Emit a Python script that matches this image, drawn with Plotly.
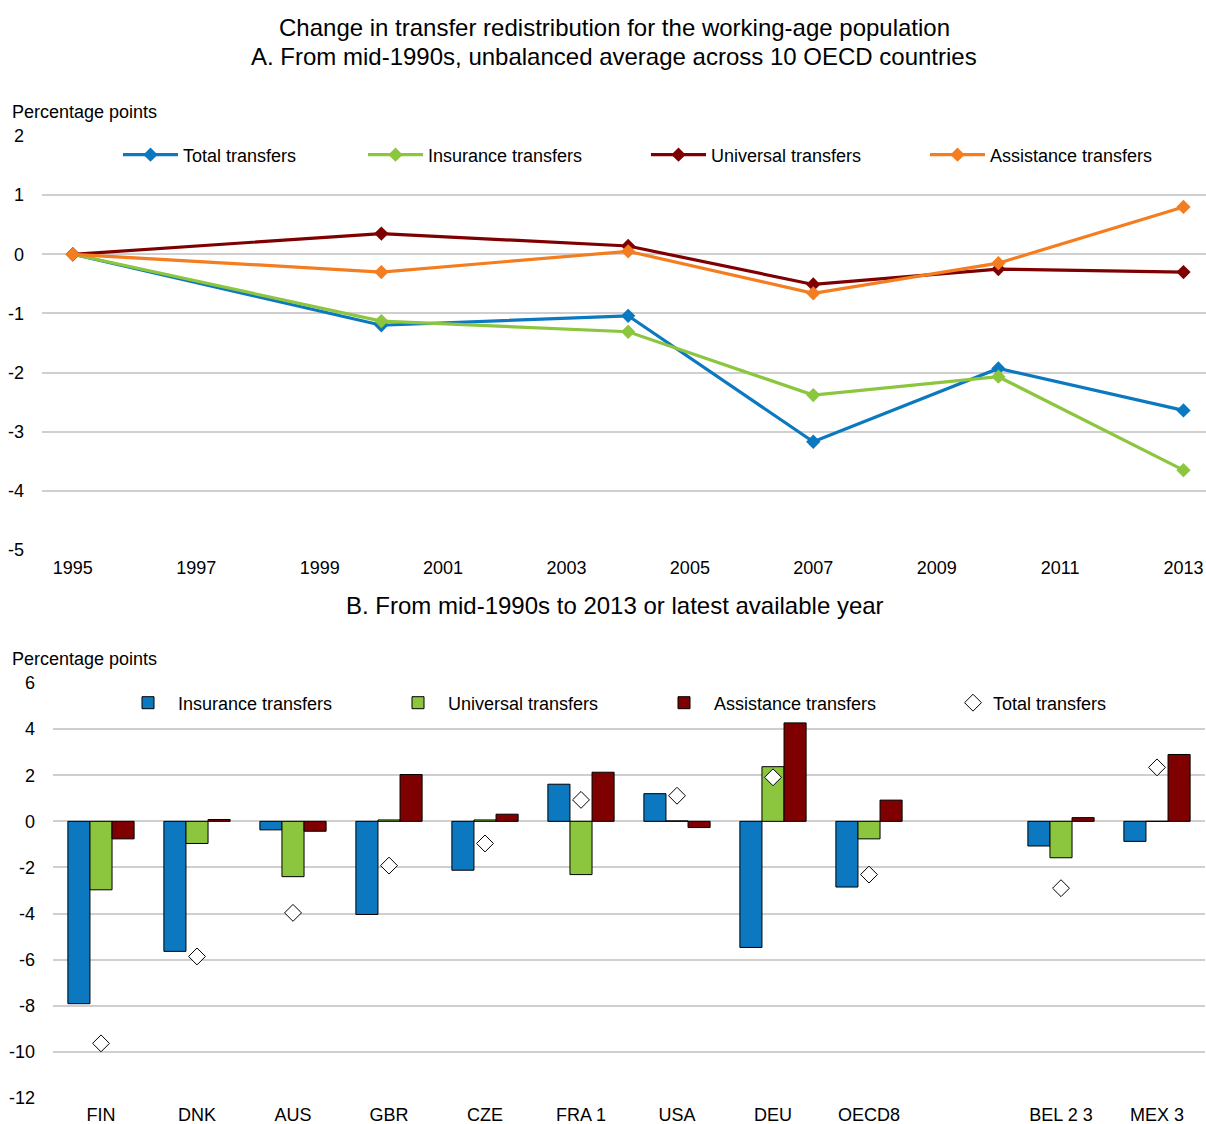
import plotly.graph_objects as go

# ---------------- Data ----------------
# Panel A
years = [1995, 2000, 2004, 2007, 2010, 2013]
a_total = [0, -1.20, -1.04, -3.17, -1.93, -2.64]
a_insurance = [0, -1.13, -1.31, -2.38, -2.07, -3.65]
a_universal = [0, 0.35, 0.14, -0.51, -0.25, -0.30]
a_assistance = [0, -0.30, 0.05, -0.66, -0.15, 0.80]
a_tick_years = [1995, 1997, 1999, 2001, 2003, 2005, 2007, 2009, 2011, 2013]
a_yticks = [2, 1, 0, -1, -2, -3, -4, -5]

# Panel B
countries = ["FIN", "DNK", "AUS", "GBR", "CZE", "FRA 1", "USA", "DEU", "OECD8", " ", "BEL 2 3", "MEX 3"]
b_insurance = [-7.91, -5.64, -0.37, -4.04, -2.12, 1.61, 1.20, -5.47, -2.85, None, -1.07, -0.87]
b_universal = [-2.97, -0.96, -2.40, 0.06, 0.06, -2.31, 0.02, 2.37, -0.76, None, -1.58, 0.0]
b_assistance = [-0.76, 0.08, -0.43, 2.03, 0.31, 2.13, -0.27, 4.27, 0.92, None, 0.16, 2.90]
b_total = [-9.63, -5.86, -3.97, -1.92, -0.96, 0.93, 1.11, 1.91, -2.31, None, -2.90, 2.34]
b_yticks = [6, 4, 2, 0, -2, -4, -6, -8, -10, -12]

# ---------------- Style ----------------
W, H = 1206, 1124
BLUE = "#0B78C0"
GREEN = "#8CC63F"
DRED = "#7F0000"
ORANGE = "#F47D20"
GRID = "#CFCFCF"
FONT = "Liberation Sans, Arial"
TXT = "#000000"


def fy(px):  # reference pixel row -> paper fraction
    return 1 - px / H


def fx(px):  # reference pixel column -> paper fraction
    return px / W


fig = go.Figure()

# Panel A traces
lines = [
    ("Total transfers", a_total, BLUE, "legend"),
    ("Insurance transfers", a_insurance, GREEN, "legend2"),
    ("Universal transfers", a_universal, DRED, "legend3"),
    ("Assistance transfers", a_assistance, ORANGE, "legend4"),
]
for name, vals, col, lg in lines:
    fig.add_trace(go.Scatter(
        x=years, y=vals, name=name, mode="lines+markers",
        line=dict(color=col, width=3.2),
        marker=dict(symbol="diamond", size=11, color=col),
        xaxis="x", yaxis="y", legend=lg,
    ))

# Panel B traces
bars = [
    ("Insurance transfers", b_insurance, BLUE, "legend5"),
    ("Universal transfers", b_universal, GREEN, "legend6"),
    ("Assistance transfers", b_assistance, DRED, "legend7"),
]
for name, vals, col, lg in bars:
    fig.add_trace(go.Bar(
        x=countries, y=vals, name=name,
        marker=dict(color=col, line=dict(color="#000000", width=1)),
        xaxis="x2", yaxis="y2", legend=lg,
    ))
fig.add_trace(go.Scatter(
    x=countries, y=b_total, name="Total transfers", mode="markers",
    marker=dict(symbol="diamond", size=13, color="white", line=dict(color="black", width=1)),
    xaxis="x2", yaxis="y2", legend="legend8",
))

# domains
ydomA = [fy(550), fy(136)]
ydomB = [fy(1098), fy(683)]
xdomA = [fx(42), 1.0]
xdomB = [fx(53), fx(1205)]
yrA = [-5, 2]
yrB = [-12, 6]
zeroA = ydomA[0] + (ydomA[1] - ydomA[0]) * (0 - yrA[0]) / (yrA[1] - yrA[0])
zeroB = ydomB[0] + (ydomB[1] - ydomB[0]) * (0 - yrB[0]) / (yrB[1] - yrB[0])
xrA = [1994.5, 2013.365]
xrB = [-0.5, 11.5]

tickfont = dict(family=FONT, size=18, color=TXT)

fig.update_layout(
    width=W, height=H,
    margin=dict(l=0, r=0, t=0, b=0, autoexpand=False),
    paper_bgcolor="white", plot_bgcolor="white",
    barmode="group", bargap=0.31, bargroupgap=0,
    showlegend=True,
    xaxis=dict(domain=xdomA, anchor="y", range=xrA, tickvals=a_tick_years,
               ticks="", showgrid=False, zeroline=False, showline=False,
               tickfont=tickfont, ticklabelstandoff=5, automargin=False),
    yaxis=dict(domain=ydomA, anchor="x", range=yrA, tickvals=a_yticks,
               ticktext=[str(v) for v in a_yticks],
               showgrid=True, gridcolor=GRID, gridwidth=2, zeroline=False,
               showline=False, ticks="", tickfont=tickfont, ticklabelstandoff=17,
               automargin=False),
    xaxis3=dict(overlaying="x", anchor="free", position=zeroA, side="top",
                range=xrA, tickvals=[1994.5 + 2 * i for i in range(10)],
                ticks="outside", ticklen=6, tickwidth=1.5, tickcolor="black",
                showticklabels=False, showline=True, linecolor="black", linewidth=1.5,
                showgrid=False, zeroline=False, layer="below traces", automargin=False),
    xaxis2=dict(domain=xdomB, anchor="y2", type="category", range=xrB,
                ticks="", showgrid=False, zeroline=False, showline=False,
                tickfont=tickfont, ticklabelstandoff=4, automargin=False),
    yaxis2=dict(domain=ydomB, anchor="x2", range=yrB, tickvals=b_yticks,
                ticktext=[str(v) for v in b_yticks],
                showgrid=True, gridcolor=GRID, gridwidth=2, zeroline=False,
                showline=False, ticks="", tickfont=tickfont, ticklabelstandoff=17,
                automargin=False),
    xaxis4=dict(overlaying="x2", anchor="free", position=zeroB, side="top",
                range=xrB, tickvals=[-0.5 + i for i in range(13)],
                ticks="outside", ticklen=6, tickwidth=1.5, tickcolor="black",
                showticklabels=False, showline=True, linecolor="black", linewidth=1.5,
                showgrid=False, zeroline=False, layer="below traces", automargin=False),
)

legfont = dict(family=FONT, size=18, color=TXT)
# (left x in reference px, centre y in reference px, item width)
leg_pos = {
    "legend": (118, 155, 55), "legend2": (363, 155, 55),
    "legend3": (646, 155, 55), "legend4": (925, 155, 55),
    "legend5": (118, 703, 50), "legend6": (388, 703, 50),
    "legend7": (654, 703, 50), "legend8": (953, 703, 30),
}
for key, (lx, ly, iw) in leg_pos.items():
    fig.layout[key] = dict(x=fx(lx), y=fy(ly), xanchor="left", yanchor="middle",
                           orientation="h", bgcolor="rgba(0,0,0,0)", font=legfont,
                           itemwidth=iw, borderwidth=0)

titlefont = dict(family=FONT, size=24, color=TXT)
annots = [
    dict(text="Change in transfer redistribution for the working-age population", x=fx(614), y=fy(27)),
    dict(text="A. From mid-1990s, unbalanced average across 10 OECD countries", x=fx(614), y=fy(57)),
    dict(text="B. From mid-1990s to 2013 or latest available year", x=fx(615), y=fy(605)),
]
for a in annots:
    fig.add_annotation(xref="paper", yref="paper", showarrow=False, xanchor="center",
                       yanchor="middle", font=titlefont, **a)
for yy in (112, 659):
    fig.add_annotation(text="Percentage points", xref="paper", yref="paper", x=fx(10), y=fy(yy),
                       xanchor="left", yanchor="middle", showarrow=False,
                       font=dict(family=FONT, size=18, color=TXT))

fig.write_html(
    "out.html",
    config={"displayModeBar": False},
    post_script="document.body.style.margin='0px';document.body.style.overflow='hidden';",
)
